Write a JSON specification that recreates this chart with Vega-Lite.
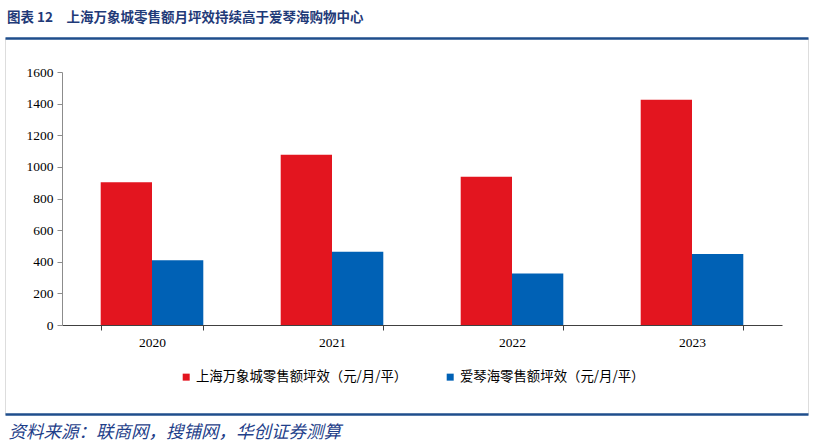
{
  "$schema": "https://vega.github.io/schema/vega-lite/v6.json",
  "width": 803,
  "height": 376,
  "autosize": "none",
  "padding": {"left": 5, "top": 38, "right": 6, "bottom": 32},
  "background": "white",
  "title": {
    "text": "图表 12　上海万象城零售额月坪效持续高于爱琴海购物中心",
    "anchor": "start",
    "dx": 2,
    "offset": 14,
    "font": "Noto Sans CJK SC",
    "fontSize": 13.5,
    "fontWeight": "bold",
    "color": "#1F3A78"
  },
  "layer": [
    {
      "data": {
        "values": [
          {"year": "2020", "series": "上海万象城零售额坪效（元/月/平）", "value": 903},
          {"year": "2020", "series": "爱琴海零售额坪效（元/月/平）", "value": 410},
          {"year": "2021", "series": "上海万象城零售额坪效（元/月/平）", "value": 1076},
          {"year": "2021", "series": "爱琴海零售额坪效（元/月/平）", "value": 464},
          {"year": "2022", "series": "上海万象城零售额坪效（元/月/平）", "value": 937},
          {"year": "2022", "series": "爱琴海零售额坪效（元/月/平）", "value": 325},
          {"year": "2023", "series": "上海万象城零售额坪效（元/月/平）", "value": 1424},
          {"year": "2023", "series": "爱琴海零售额坪效（元/月/平）", "value": 449}
        ]
      },
      "mark": {"type": "bar"},
      "encoding": {
        "x": {
          "field": "year",
          "type": "nominal",
          "scale": {"range": [57, 777], "paddingInner": 0.43, "paddingOuter": 0.215},
          "axis": {
            "orient": "bottom",
            "offset": -89,
            "tickBand": "extent",
            "grid": false,
            "labelAngle": 0,
            "domainColor": "#404040",
            "tickColor": "#404040",
            "tickSize": 5,
            "labelFont": "Liberation Serif",
            "labelFontSize": 13.5,
            "labelColor": "#000000",
            "labelPadding": 5,
            "title": "资料来源：联商网，搜铺网，华创证券测算",
            "titleFont": "Noto Sans CJK SC",
            "titleFontStyle": "italic",
            "titleFontWeight": "normal",
            "titleFontSize": 17.5,
            "titleColor": "#1F3F8A",
            "titleX": 3,
            "titleY": 107,
            "titleAlign": "left",
            "titleBaseline": "middle",
            "titleAngle": 0,
            "titleLimit": 0
          }
        },
        "xOffset": {
          "field": "series",
          "type": "nominal",
          "sort": ["上海万象城零售额坪效（元/月/平）", "爱琴海零售额坪效（元/月/平）"],
          "scale": {"paddingInner": 0}
        },
        "y": {
          "field": "value",
          "type": "quantitative",
          "scale": {"domain": [0, 1600], "range": [287, 34], "nice": false},
          "axis": {
            "orient": "left",
            "offset": -57,
            "values": [0, 200, 400, 600, 800, 1000, 1200, 1400, 1600],
            "grid": false,
            "domainColor": "#8c8c8c",
            "tickColor": "#8c8c8c",
            "tickSize": 5,
            "labelFont": "Liberation Serif",
            "labelFontSize": 13.5,
            "labelColor": "#000000",
            "labelPadding": 4,
            "format": "d",
            "title": null
          }
        },
        "color": {
          "field": "series",
          "type": "nominal",
          "scale": {
            "domain": ["上海万象城零售额坪效（元/月/平）", "爱琴海零售额坪效（元/月/平）"],
            "range": ["#E3151F", "#0061B5"]
          },
          "legend": {
            "orient": "none",
            "legendX": 174.5,
            "legendY": 332,
            "direction": "horizontal",
            "title": null,
            "padding": 0,
            "symbolType": "square",
            "symbolSize": 49,
            "symbolStrokeWidth": 0,
            "labelFont": "Noto Sans CJK SC",
            "labelFontSize": 13.4,
            "labelColor": "#000000",
            "labelOffset": 3,
            "labelLimit": 0,
            "columnPadding": 36
          }
        }
      }
    },
    {
      "data": {"values": [{}]},
      "mark": {"type": "rule", "opacity": 0},
      "encoding": {
        "y": {
          "datum": 0,
          "type": "quantitative",
          "scale": {"domain": [0, 1], "nice": false},
          "axis": {
            "orient": "right",
            "values": [0, 1],
            "grid": true,
            "gridColor": "#1F4E8C",
            "gridWidth": 2.5,
            "domain": false,
            "ticks": false,
            "labels": false,
            "title": null
          }
        }
      }
    }
  ],
  "resolve": {"scale": {"y": "independent"}, "axis": {"y": "independent"}}
}
